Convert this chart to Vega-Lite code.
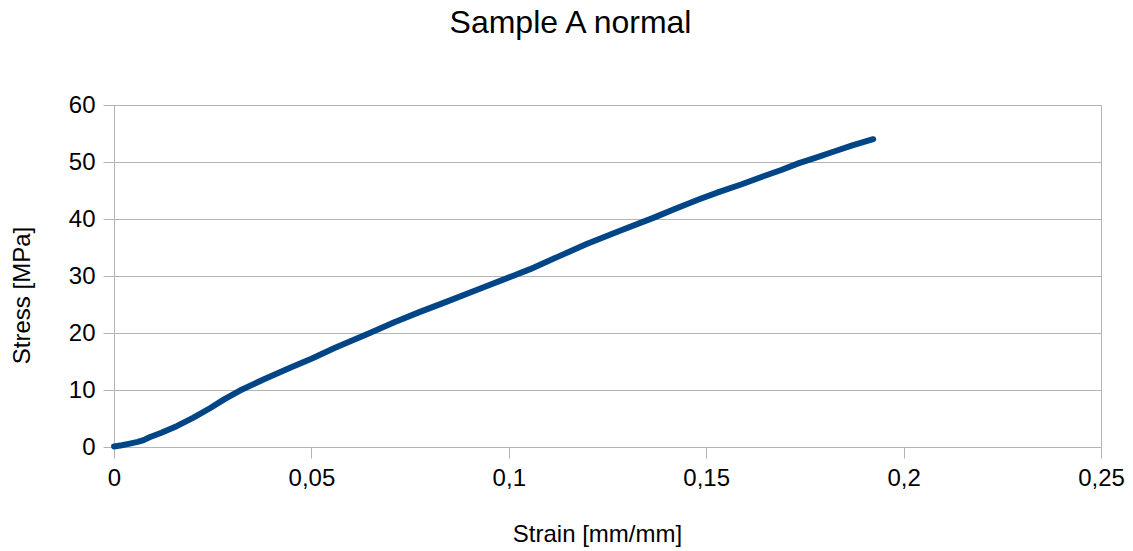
{
  "$schema": "https://vega.github.io/schema/vega-lite/v6.json",
  "autosize": "none",
  "width": 987,
  "height": 342,
  "padding": {"left": 114, "top": 105, "right": 32, "bottom": 104},
  "background": "white",
  "title": {
    "text": "Sample A normal",
    "font": "Liberation Sans",
    "fontSize": 32,
    "fontWeight": "normal",
    "color": "black",
    "anchor": "middle",
    "dx": -37,
    "offset": 53
  },
  "config": {
    "view": {"stroke": "#b3b3b3", "strokeWidth": 1},
    "axis": {
      "labelFont": "Liberation Sans",
      "titleFont": "Liberation Sans",
      "labelFontSize": 24,
      "titleFontSize": 24,
      "titleFontWeight": "normal",
      "labelColor": "black",
      "titleColor": "black",
      "domainColor": "#b3b3b3",
      "tickColor": "#b3b3b3",
      "gridColor": "#b3b3b3",
      "tickSize": 11
    }
  },
  "data": {
    "values": [
      {"strain": 0, "stress": 0.1},
      {"strain": 0.002, "stress": 0.3},
      {"strain": 0.004, "stress": 0.6},
      {"strain": 0.006, "stress": 0.9},
      {"strain": 0.0075, "stress": 1.2},
      {"strain": 0.009, "stress": 1.7},
      {"strain": 0.012, "stress": 2.5},
      {"strain": 0.016, "stress": 3.7},
      {"strain": 0.02, "stress": 5.1},
      {"strain": 0.0243, "stress": 6.8},
      {"strain": 0.028, "stress": 8.4},
      {"strain": 0.0319, "stress": 9.9},
      {"strain": 0.038, "stress": 11.9},
      {"strain": 0.0446, "stress": 13.9},
      {"strain": 0.05, "stress": 15.5},
      {"strain": 0.056, "stress": 17.4},
      {"strain": 0.0648, "stress": 20.0},
      {"strain": 0.071, "stress": 21.9},
      {"strain": 0.0775, "stress": 23.7},
      {"strain": 0.0843, "stress": 25.5},
      {"strain": 0.092, "stress": 27.6},
      {"strain": 0.101, "stress": 30.0},
      {"strain": 0.1054, "stress": 31.2},
      {"strain": 0.1125, "stress": 33.4},
      {"strain": 0.1197, "stress": 35.6},
      {"strain": 0.128, "stress": 37.9},
      {"strain": 0.1366, "stress": 40.2},
      {"strain": 0.1425, "stress": 41.9},
      {"strain": 0.1484, "stress": 43.5},
      {"strain": 0.1535, "stress": 44.8},
      {"strain": 0.159, "stress": 46.1},
      {"strain": 0.1645, "stress": 47.5},
      {"strain": 0.169, "stress": 48.6},
      {"strain": 0.1735, "stress": 49.8},
      {"strain": 0.178, "stress": 50.8},
      {"strain": 0.1822, "stress": 51.8},
      {"strain": 0.187, "stress": 52.9},
      {"strain": 0.1923, "stress": 54.0}
    ]
  },
  "mark": {"type": "line", "color": "#004586", "strokeWidth": 6, "strokeCap": "round", "strokeJoin": "round"},
  "encoding": {
    "x": {
      "field": "strain",
      "type": "quantitative",
      "scale": {"domain": [0, 0.25], "nice": false, "zero": true},
      "axis": {
        "title": "Strain [mm/mm]",
        "values": [0, 0.05, 0.1, 0.15, 0.2, 0.25],
        "labelExpr": "replace(format(datum.value, '~g'), '.', ',')",
        "grid": false,
        "labelPadding": 8,
        "labelFlush": false,
        "titleX": 483,
        "titleY": 87,
        "titleBaseline": "middle",
        "titleAlign": "center"
      }
    },
    "y": {
      "field": "stress",
      "type": "quantitative",
      "scale": {"domain": [0, 60], "nice": false},
      "axis": {
        "title": "Stress [MPa]",
        "values": [0, 10, 20, 30, 40, 50, 60],
        "grid": true,
        "labelPadding": 8,
        "labelFlush": false,
        "titleX": -92,
        "titleY": 190,
        "titleAngle": -90,
        "titleBaseline": "middle",
        "titleAlign": "center"
      }
    }
  }
}
